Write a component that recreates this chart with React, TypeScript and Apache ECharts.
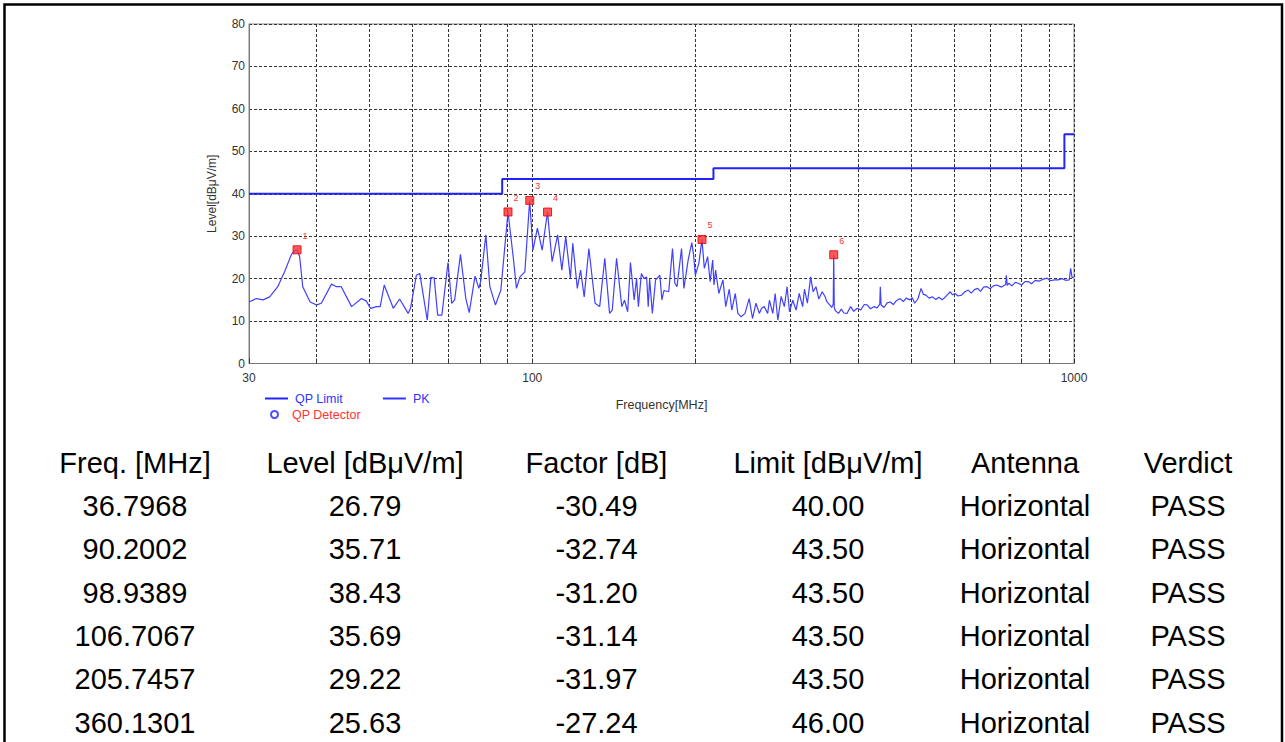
import React, { useEffect, useRef } from "react";
import * as echarts from "echarts";

// ---- PK trace (frequency in MHz, level in dBµV/m) ----
const pkFreq = [
  30.0, 30.96, 31.84, 32.76, 33.9, 34.9, 35.9, 36.4, 36.8, 37.2, 37.7, 38.9, 40.0, 40.8, 42.6, 43.5, 44.4,
  46.4, 48.4, 49.4, 50.3, 51.6, 52.4, 53.3, 55.4, 56.9, 59.0, 59.6, 61.1, 62.0, 64.0, 65.0, 65.9, 66.9,
  68.1, 69.9, 71.0, 71.9, 73.7, 75.4, 76.5, 78.4, 79.7, 80.3, 82.1, 83.5, 85.5, 87.5, 90.2, 92.2, 93.5,
  94.9, 96.9, 98.9, 100.3, 102.2, 104.3, 106.7, 108.8, 111.4, 113.4, 115.3, 117.6, 118.8, 121.1, 122.8,
  124.7, 127.2, 130.6, 133.2, 136.1, 138.9, 140.5, 143.1, 146.3, 148.0, 150.0, 151.8, 154.2, 155.8, 157.0,
  159.0, 160.8, 162.6, 163.7, 164.7, 166.6, 168.9, 172.0, 173.5, 175.0, 178.6, 181.5, 183.3, 185.0, 188.6,
  190.5, 194.0, 197.0, 198.5, 200.0, 203.0, 205.7, 207.8, 210.7, 213.0, 215.3, 216.5, 218.0, 221.0, 224.9,
  227.6, 231.0, 233.5, 237.0, 239.6, 243.0, 247.0, 251.4, 255.0, 258.8, 262.5, 265.0, 268.1, 272.0, 274.0,
  278.0, 280.8, 284.0, 288.0, 292.0, 295.4, 298.4, 302.6, 306.9, 311.0, 315.6, 318.0, 322.0, 326.5, 330.0,
  334.0, 338.0, 343.0, 347.0, 350.0, 354.0, 357.0, 359.4, 360.1, 361.0, 363.0, 367.5, 372.0, 376.0, 381.0,
  387.0, 392.0, 398.0, 404.0, 410.0, 415.0, 421.0, 427.0, 433.0, 438.0, 439.0, 440.5, 446.0, 452.0, 458.0,
  464.0, 470.0, 477.6, 484.0, 490.0, 497.7, 503.0, 508.0, 515.0, 522.0, 527.0, 533.0, 540.0, 548.0, 556.0,
  563.0, 571.0, 580.0, 591.0, 597.0, 603.0, 611.0, 620.0, 629.0, 638.0, 646.0, 655.0, 664.0, 672.0, 681.0,
  691.0, 700.0, 710.0, 720.0, 735.0, 748.0, 750.0, 753.0, 758.0, 768.0, 779.0, 789.0, 800.0, 812.0, 823.0,
  835.0, 848.0, 862.0, 878.0, 892.0, 905.0, 920.0, 935.0, 950.0, 965.0, 980.0, 986.0, 992.0, 1000.0,
];
const pkLevel = [
  14.5, 15.3, 15.0, 15.7, 18.1, 21.6, 25.6, 26.6, 26.8, 25.2, 18.1, 14.5, 13.8, 14.2, 18.7, 18.1, 18.1,
  13.4, 15.3, 14.7, 13.0, 13.4, 13.4, 18.5, 13.0, 15.2, 11.8, 13.0, 20.8, 21.2, 10.2, 20.3, 20.2, 11.4,
  11.4, 23.8, 14.2, 15.0, 25.7, 15.3, 12.0, 20.6, 17.7, 19.3, 30.3, 18.1, 13.8, 17.3, 35.7, 25.2, 17.7,
  20.4, 21.6, 38.4, 26.7, 31.9, 26.7, 35.7, 24.0, 30.3, 22.0, 29.9, 20.1, 28.3, 17.7, 22.0,
  15.7, 27.1, 14.2, 13.4, 24.8, 11.8, 12.6, 24.8, 13.4, 14.9, 12.2, 23.8, 15.0, 20.1, 13.4,
  21.2, 20.0, 20.4, 13.4, 19.9, 11.8, 19.7, 20.8, 15.0, 17.2, 16.9, 27.1, 18.9, 18.1, 27.1,
  17.7, 24.4, 28.5, 25.6, 20.8, 23.6, 29.2, 22.4, 25.2, 19.3, 24.4, 18.5, 22.0, 16.5, 19.7,
  13.4, 17.5, 12.6, 16.5, 11.8, 11.0, 11.8, 15.3, 10.6, 14.2, 11.8, 13.0, 13.4, 11.8, 14.9,
  11.8, 16.5, 10.2, 15.8, 13.4, 18.1, 12.2, 14.9, 12.6, 16.5, 13.4, 17.5, 14.2, 20.4, 16.9,
  18.1, 15.2, 16.9, 15.8, 14.5, 13.8, 13.2, 14.0, 25.6, 13.0, 12.4, 11.8, 12.8, 11.9, 11.8,
  13.4, 12.3, 13.0, 12.6, 13.9, 13.8, 12.9, 13.4, 13.1, 14.0, 18.1, 13.8, 13.2, 14.3, 14.5,
  13.9, 14.8, 15.3, 14.6, 15.4, 15.0, 15.5, 14.2, 15.2, 17.7, 16.3, 16.1, 15.4, 15.7, 15.1,
  15.6, 15.0, 15.8, 16.9, 16.2, 16.5, 15.9, 16.1, 16.9, 17.3, 16.6, 17.4, 17.7, 17.0, 18.0,
  18.1, 17.6, 18.3, 18.5, 18.0, 18.6, 20.8, 18.4, 18.9, 18.3, 19.1, 18.9, 18.5, 19.3, 19.3,
  18.8, 19.6, 19.4, 19.9, 20.1, 19.5, 19.7, 19.7, 20.0, 19.6, 19.7, 22.4, 20.2, 20.4,
];

// ---- QP limit (stepped) ----
const limitFreq = [30, 88, 88, 216, 216, 960, 960, 1000];
const limitLevel = [40, 40, 43.5, 43.5, 46, 46, 54, 54];

// ---- axis ticks ----
const xGridFreqs = [30, 40, 50, 60, 70, 80, 90, 100, 200, 300, 400, 500, 600, 700, 800, 900, 1000];
const xLabelFreqs = [30, 100, 1000];
const yMin = 0;
const yMax = 80;
const yStep = 10;

// ---- QP detector results / table ----
const tableHeaders = ["Freq. [MHz]", "Level [dBμV/m]", "Factor [dB]", "Limit [dBμV/m]", "Antenna", "Verdict"];
const peakNo = ["1", "2", "3", "4", "5", "6"];
const peakFreq = [36.7968, 90.2002, 98.9389, 106.7067, 205.7457, 360.1301];
const peakLevel = [26.79, 35.71, 38.43, 35.69, 29.22, 25.63];
const peakFactor = [-30.49, -32.74, -31.2, -31.14, -31.97, -27.24];
const peakLimit = [40.0, 43.5, 43.5, 43.5, 43.5, 46.0];
const peakAntenna = ["Horizontal", "Horizontal", "Horizontal", "Horizontal", "Horizontal", "Horizontal"];
const peakVerdict = ["PASS", "PASS", "PASS", "PASS", "PASS", "PASS"];

const FONT = "Arial, 'Liberation Sans', sans-serif";
const lg = (f: number) => Math.log10(f);

export default function App() {
  const ref = useRef<HTMLDivElement>(null);

  useEffect(() => {
    document.body.style.margin = "0";
    if (!ref.current) return;
    const chart = echarts.init(ref.current, undefined, { renderer: "svg" });

    const colX = [135, 365, 596.5, 828, 1025, 1188];
    const headerY = 463;
    const rowY0 = 506;
    const rowStep = 43.35;
    const rows = peakFreq.map((f, i) => [
      f.toFixed(4),
      peakLevel[i].toFixed(2),
      peakFactor[i].toFixed(2),
      peakLimit[i].toFixed(2),
      peakAntenna[i],
      peakVerdict[i],
    ]);
    const tableTexts: any[] = [];
    tableHeaders.forEach((h, c) => {
      tableTexts.push({
        type: "text",
        x: colX[c],
        y: headerY,
        silent: true,
        style: { text: h, fill: "#000", fontSize: 29, fontFamily: FONT, align: "center", verticalAlign: "middle" },
      });
    });
    rows.forEach((r, ri) => {
      r.forEach((t, c) => {
        tableTexts.push({
          type: "text",
          x: colX[c],
          y: rowY0 + ri * rowStep,
          silent: true,
          style: { text: t, fill: "#000", fontSize: 29, fontFamily: FONT, align: "center", verticalAlign: "middle" },
        });
      });
    });

    const option: any = {
      animation: false,
      backgroundColor: "#fff",
      textStyle: { fontFamily: FONT },
      grid: {
        left: 249,
        top: 24,
        width: 825,
        height: 339.5,
        show: true,
        borderColor: "#888",
        borderWidth: 1,
        backgroundColor: "transparent",
      },
      legend: [
        {
          left: 265,
          top: 392,
          padding: 0,
          itemWidth: 23,
          itemHeight: 2,
          itemGap: 40,
          selectedMode: false,
          textStyle: { fontSize: 12.5, fontFamily: FONT, padding: [0, 0, 0, 2] },
          data: [
            { name: "QP Limit", icon: "rect", textStyle: { color: "#3333ff" } },
            { name: "PK", icon: "rect", textStyle: { color: "#3333ff" } },
          ],
        },
        {
          left: 270,
          top: 408,
          padding: 0,
          itemWidth: 7,
          itemHeight: 7,
          selectedMode: false,
          textStyle: { fontSize: 12.5, fontFamily: FONT, padding: [0, 0, 0, 9] },
          data: [
            {
              name: "QP Detector",
              icon: "circle",
              itemStyle: { color: "#fff", borderColor: "#2222ff", borderWidth: 2 },
              textStyle: { color: "#ff3333" },
            },
          ],
        },
      ],
      xAxis: {
        type: "value",
        min: lg(30),
        max: 3,
        name: "Frequency[MHz]",
        nameLocation: "middle",
        nameGap: 35,
        nameTextStyle: { fontSize: 12.5, color: "#333", fontFamily: FONT },
        axisLine: { show: true, lineStyle: { color: "#777", width: 1 } },
        axisTick: {
          show: true,
          inside: true,
          length: 5,
          customValues: xGridFreqs.map(lg),
          lineStyle: { color: "#333" },
        },
        axisLabel: {
          customValues: xLabelFreqs.map(lg),
          formatter: (v: number) => String(Math.round(Math.pow(10, v))),
          fontSize: 12,
          color: "#333",
          margin: 8,
          fontFamily: FONT,
        },
        splitLine: { show: true, lineStyle: { color: "#333", type: [3, 2], width: 1 } },
      },
      yAxis: {
        type: "value",
        min: yMin,
        max: yMax,
        interval: yStep,
        name: "Level[dBμV/m]",
        nameLocation: "middle",
        nameRotate: 90,
        nameGap: 31,
        nameTextStyle: { fontSize: 12, color: "#333", fontFamily: FONT },
        axisLine: { show: true, lineStyle: { color: "#777", width: 1 } },
        axisTick: { show: false },
        axisLabel: { fontSize: 12, color: "#333", margin: 4, fontFamily: FONT },
        splitLine: { show: true, lineStyle: { color: "#333", type: [3, 2], width: 1 } },
      },
      series: [
        {
          name: "QP Limit",
          type: "line",
          symbol: "none",
          silent: true,
          lineStyle: { color: "#2222ff", width: 2 },
          itemStyle: { color: "#2222ff" },
          data: limitFreq.map((f, i) => [lg(f), limitLevel[i]]),
          z: 3,
        },
        {
          name: "PK",
          type: "line",
          symbol: "none",
          silent: true,
          lineStyle: { color: "#4040ff", width: 1.2 },
          itemStyle: { color: "#3333ff" },
          data: pkFreq.map((f, i) => [lg(f), pkLevel[i]]),
          z: 4,
        },
        {
          name: "QP Detector",
          type: "scatter",
          symbol: "rect",
          symbolSize: 8,
          silent: true,
          itemStyle: { color: "#ff3030", borderColor: "#dd0000", borderWidth: 1 },
          data: peakFreq.map((f, i) => [lg(f), peakLevel[i]]),
          z: 6,
        },
      ],
    };

    chart.setOption(option);

    // peak numbers placed through the chart's own coordinate conversion
    const numberTexts = peakFreq.map((f, i) => {
      const p = chart.convertToPixel({ gridIndex: 0 }, [lg(f), peakLevel[i]]) as number[];
      return {
        type: "text",
        id: "peakNo" + i,
        x: p[0] + 8,
        y: p[1] - 14,
        silent: true,
        z: 10,
        style: {
          text: peakNo[i],
          fill: "#ff3333",
          fontSize: 9,
          fontFamily: FONT,
          align: "center",
          verticalAlign: "middle",
        },
      };
    });

    chart.setOption({
      graphic: [
        {
          type: "rect",
          id: "frame",
          silent: true,
          z: -1,
          shape: { x: 4.5, y: 4.5, width: 1277.5, height: 800 },
          style: { fill: "none", stroke: "#000", lineWidth: 2.5 },
        },
        ...tableTexts,
        ...numberTexts,
      ],
    });

    return () => chart.dispose();
  }, []);

  return <div ref={ref} style={{ width: 1285, height: 742 }} />;
}
